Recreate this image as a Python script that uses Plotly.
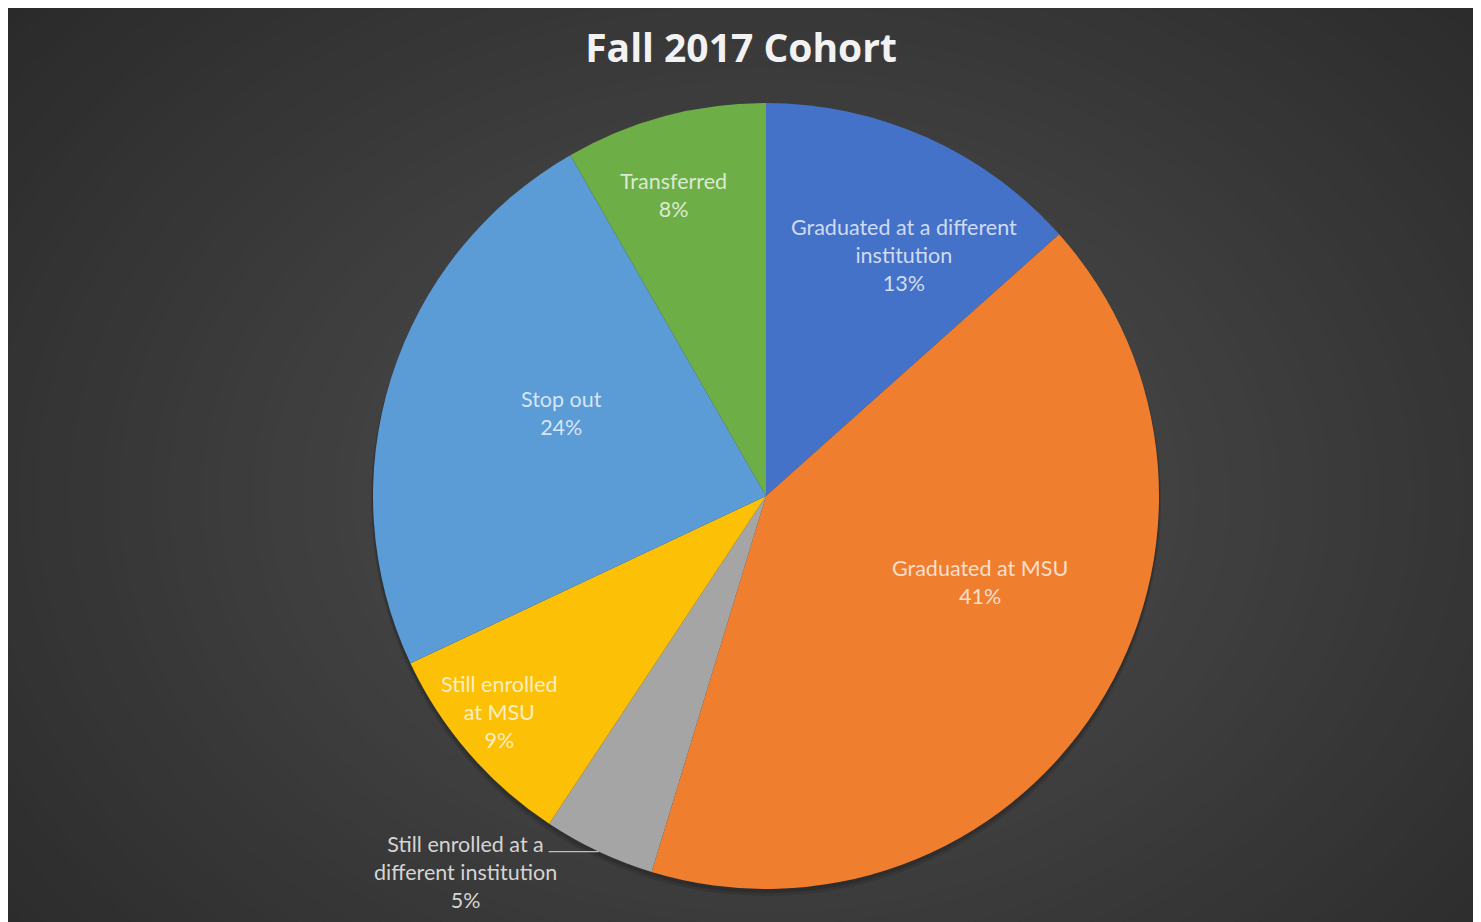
import math
import plotly.graph_objects as go

labels = ["Graduated at a different institution", "Graduated at MSU",
          "Still enrolled at a different institution", "Still enrolled at MSU",
          "Stop out", "Transferred"]
display_labels = ["Graduated at a different<br>institution", "Graduated at MSU",
                  "Still enrolled at a<br>different institution", "Still enrolled<br>at MSU",
                  "Stop out", "Transferred"]
values = [13.4, 41.3, 4.6, 8.7, 23.7, 8.3]
colors = ["#4472c8", "#f07e2f", "#a5a5a5", "#fcc007", "#5b9bd6", "#6eae47"]
outside_index = 2

# label placement style: (radius fraction, angle adjustment in degrees)
label_style = [(0.707, 5.7), (0.588, -10.6), None, (0.873, 1.9), (0.562, 4.5), (0.80, -2.1)]

OFF = 8  # page body margin
W, H = 1481 - OFF, 922 - OFF
fig = go.Figure()

dom_x = [(373 - OFF) / W, (1159 - OFF) / W]
dom_y = [1 - (889 - OFF) / H, 1 - (103 - OFF) / H]
cx = (dom_x[0] + dom_x[1]) / 2
cy = (dom_y[0] + dom_y[1]) / 2
R = (dom_y[1] - dom_y[0]) * H / 2

fig.add_trace(go.Pie(
    labels=labels, values=values, textinfo="none",
    sort=False, direction="clockwise", rotation=0,
    marker=dict(colors=colors, line=dict(width=0)),
    hoverinfo="label+percent",
    domain=dict(x=dom_x, y=dom_y), showlegend=False,
))

total = sum(values)
annotations = []
shapes = []
for i, (lab, v) in enumerate(zip(display_labels, values)):
    mid = sum(values[:i]) + v / 2
    ang = 2 * math.pi * mid / total
    pct = round(100 * v / total)
    if i == outside_index:
        ex = cx + R * math.sin(ang) / W
        ey = cy + R * math.cos(ang) / H
        lx = ex - 50 / W
        shapes.append(dict(type="line", xref="paper", yref="paper",
                           x0=lx, x1=ex, y0=ey, y1=ey,
                           line=dict(color="#bfbfbf", width=1.3), layer="above"))
        annotations.append(dict(
            x=lx - 83 / W, y=ey - 20 / H, xref="paper", yref="paper",
            text=f"{lab}<br>{pct}%", showarrow=False,
            xanchor="center", yanchor="middle", align="center",
            font=dict(family="Lato", size=21.5, color="#d4d4d4")))
        continue
    rf, da = label_style[i]
    a = ang + math.radians(da)
    annotations.append(dict(
        x=cx + rf * R * math.sin(a) / W, y=cy + rf * R * math.cos(a) / H,
        xref="paper", yref="paper", text=f"{lab}<br>{pct}%", showarrow=False,
        xanchor="center", yanchor="middle", align="center",
        font=dict(family="Lato", size=21.5, color="rgba(255,255,255,0.76)")))

# radial gradient background
n = 70
c_out = (36, 36, 36)
c_in = (80, 80, 80)
bg = []
for k in range(n):
    t = k / (n - 1)
    rx = 0.78 * (1 - t) + 0.01
    ry = 0.95 * (1 - t) + 0.015
    col = tuple(int(round(c_out[j] + (c_in[j] - c_out[j]) * t)) for j in range(3))
    bg.append(dict(type="circle", xref="paper", yref="paper",
                   x0=cx - rx, x1=cx + rx, y0=cy - ry, y1=cy + ry,
                   fillcolor=f"rgb{col}", line=dict(width=0), layer="below"))
# soft drop shadow of the pie (offset downward)
for grow, drop, alpha in [(2, 5, 0.10), (1, 3, 0.14)]:
    bg.append(dict(type="circle", xref="paper", yref="paper",
                   x0=cx - (R + grow) / W, x1=cx + (R + grow) / W,
                   y0=cy - (R + grow + drop) / H, y1=cy + (R + grow - drop) / H,
                   fillcolor=f"rgba(0,0,0,{alpha})", line=dict(width=0), layer="below"))

fig.update_layout(
    width=W, height=H,
    margin=dict(l=0, r=0, t=0, b=0),
    paper_bgcolor="#242424", plot_bgcolor="#242424",
    shapes=bg + shapes,
    annotations=annotations,
    title=dict(text="<b>Fall 2017 Cohort</b>", x=(741 - OFF) / W, xanchor="center",
               y=1 - (48 - OFF) / H, yanchor="middle",
               font=dict(family="Open Sans", size=39, color="#f2f2f2")),
)

fig.write_html("out.html")
